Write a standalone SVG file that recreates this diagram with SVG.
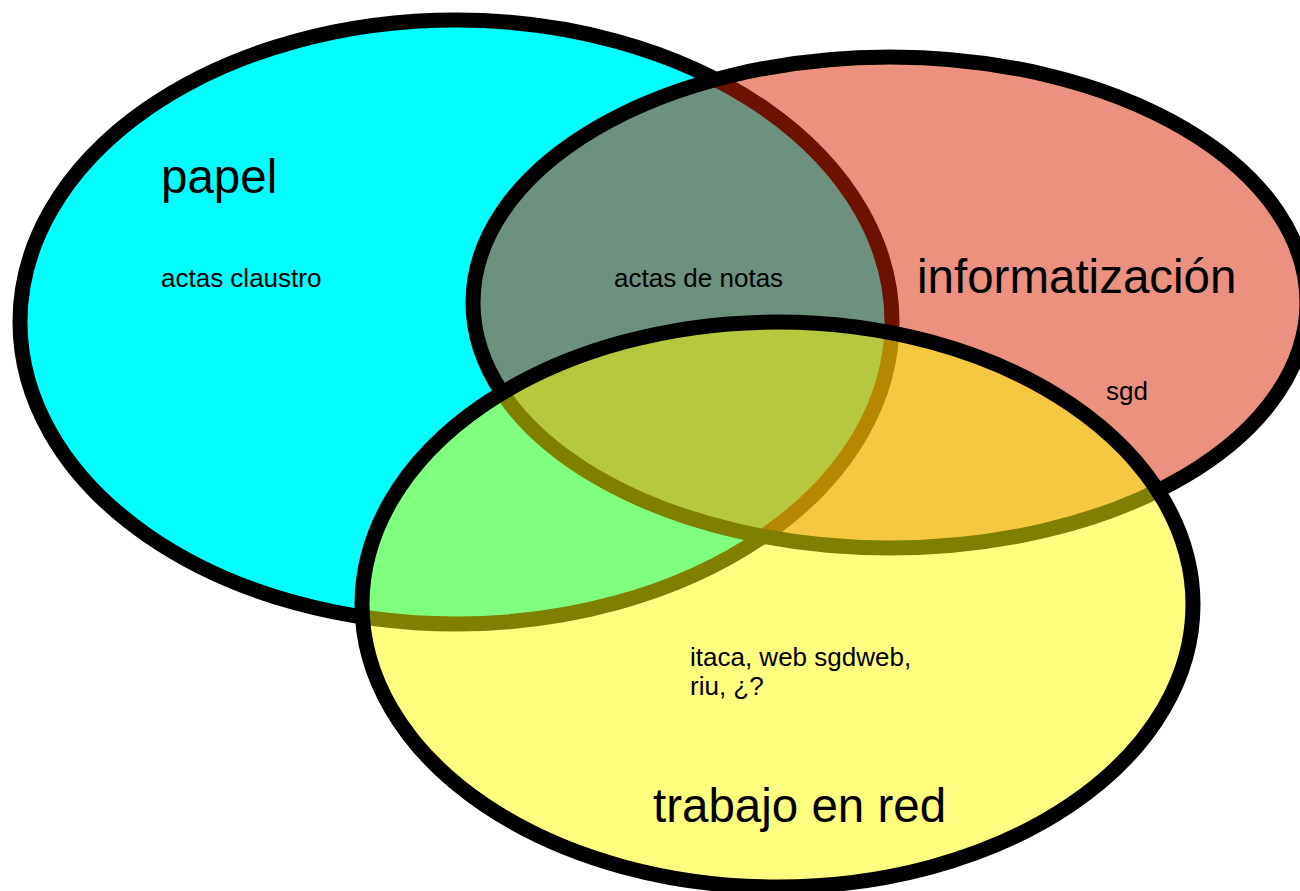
<svg xmlns="http://www.w3.org/2000/svg" width="1300" height="891" viewBox="0 0 1300 891">
  <style>
    .set { stroke: #000; stroke-width: 15; }
    .big { font-family: "Liberation Sans", Arial, sans-serif; font-size: 47.5px; fill: #000; }
    .small { font-family: "Liberation Sans", Arial, sans-serif; font-size: 26px; fill: #000; }
  </style>
  <rect width="1300" height="891" fill="#ffffff"/>
  <g id="papel">
    <ellipse class="set" cx="456" cy="322" rx="436" ry="302" fill="#00ffff"/>
  </g>
  <g id="informatizacion">
    <ellipse class="set" cx="890" cy="302.5" rx="417" ry="245.5" fill="rgb(218,34,0)" fill-opacity="0.5"/>
  </g>
  <g id="trabajo-en-red">
    <ellipse class="set" cx="777.5" cy="604.5" rx="415.5" ry="282.5" fill="#ffff00" fill-opacity="0.5"/>
  </g>
  <g id="labels">
    <text class="big" x="161" y="193">papel</text>
    <text class="small" x="161" y="287">actas claustro</text>
    <text class="small" x="614" y="287">actas de notas</text>
    <text class="big" x="917" y="293">informatización</text>
    <text class="small" x="1106" y="400">sgd</text>
    <text class="small" x="690" y="666">itaca, web sgdweb,</text>
    <text class="small" x="690" y="695">riu, ¿?</text>
    <text class="big" x="653" y="822">trabajo en red</text>
  </g>
</svg>
